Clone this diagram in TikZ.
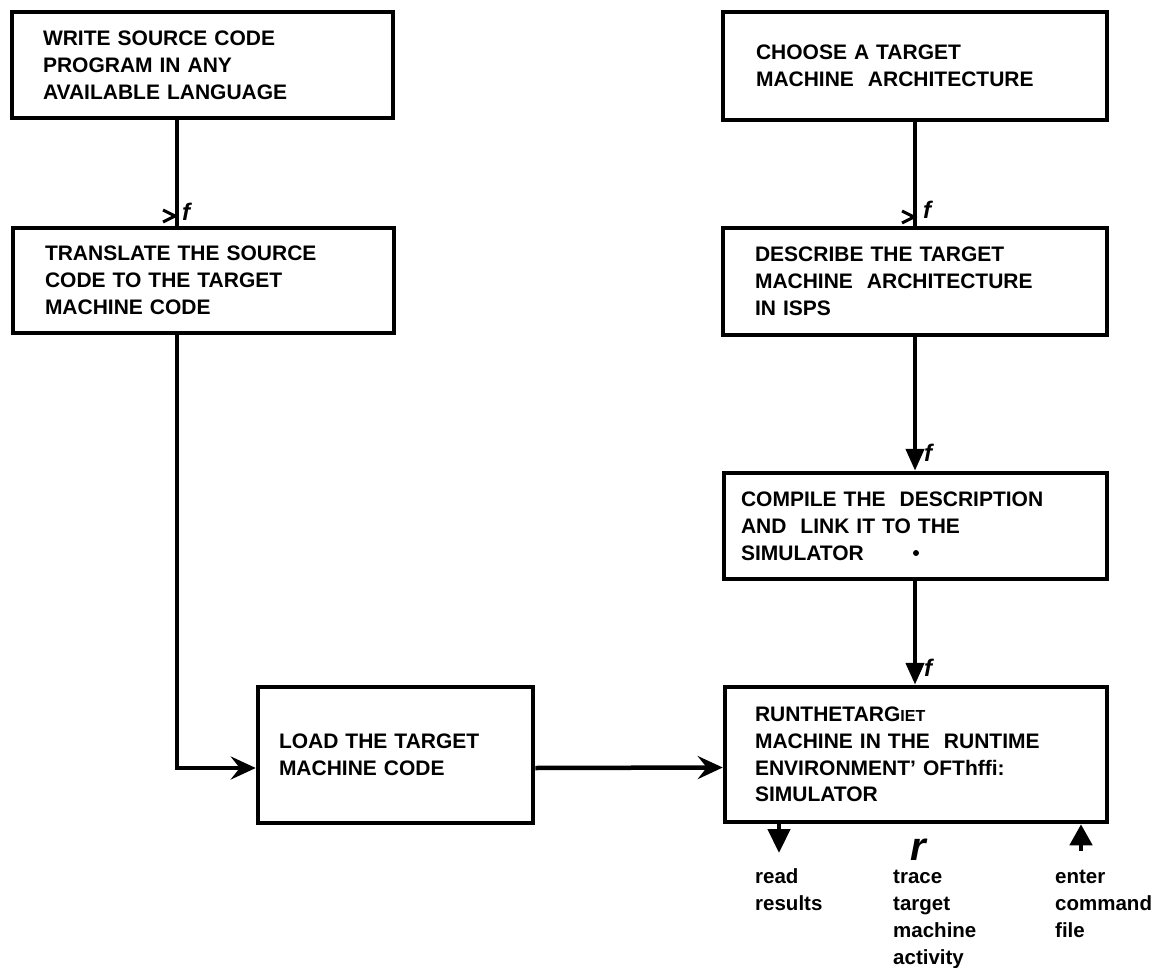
\documentclass[tikz,border=0pt]{standalone}
\usepackage{fontspec}
\setmainfont{Liberation Sans}
\usetikzlibrary{arrows.meta}
\newcommand\myboxfont{\fontsize{21}{26.8}\selectfont\bfseries}
\newcommand\mylblfont{\fontsize{20.5}{27.3}\selectfont\bfseries}
\begin{document}
\begin{tikzpicture}[x=1pt,y=-1pt,
  box/.style={draw, rectangle, line width=4.5pt, align=left, font=\myboxfont, inner ysep=0pt},
  conn/.style={line width=4.5pt},
  chev/.style={line width=3pt, miter limit=10},
  barb/.style={-{Stealth[length=25pt,width=23pt,inset=9pt]}},
  tri/.style={-{Triangle[length=22pt,width=18pt]}},
  fmark/.style={font=\fontsize{24}{24}\selectfont\bfseries\itshape, inner sep=0pt},
  lbl/.style={font=\mylblfont, align=left, inner sep=0pt, anchor=base west, text width=110pt}]
\useasboundingbox (0,0) rectangle (1159,968);
\fill[white] (0,0) rectangle (1159,968);

% boxes
\node[box, minimum width=381pt, minimum height=106pt, text width=319pt, inner xsep=31pt] (b1) at (202.5,65)
  {WRITE SOURCE CODE\\PROGRAM IN ANY\\AVAILABLE LANGUAGE};
\node[box, minimum width=381pt, minimum height=105pt, text width=317pt, inner xsep=32pt] (b2) at (203.5,280.5)
  {TRANSLATE THE SOURCE\\CODE TO THE TARGET\\MACHINE CODE};
\node[box, minimum width=384pt, minimum height=108pt, text width=318pt, inner xsep=33pt] (b3) at (915,66)
  {CHOOSE A TARGET\\MACHINE\ \ ARCHITECTURE};
\node[box, minimum width=384pt, minimum height=107pt, text width=320pt, inner xsep=32pt] (b4) at (915,281.5)
  {DESCRIBE THE TARGET\\MACHINE\ \ ARCHITECTURE\\IN ISPS};
\node[box, minimum width=383pt, minimum height=106pt, text width=349pt, inner xsep=17pt] (b5) at (915.5,526)
  {COMPILE THE\ \ DESCRIPTION\\AND\ \ LINK IT TO THE\\SIMULATOR};
\node[box, minimum width=382pt, minimum height=135pt, text width=322pt, inner xsep=30pt] (b6) at (916,754.5)
  {RUNTHETARG{\fontsize{16}{26.8}\selectfont IET}\\MACHINE IN THE\ \ RUNTIME\\ENVIRONMENT' OFThffi:\\SIMULATOR};
\node[box, minimum width=275pt, minimum height=136pt, text width=233pt, inner xsep=21pt] (b7) at (395.5,755)
  {LOAD THE TARGET\\MACHINE CODE};

% guide coordinates
\coordinate (cL) at (177,0);
\coordinate (cR) at (915,0);
\coordinate (dOut) at (779,853);
\coordinate (uIn) at (1081,851);

% connectors
\draw[conn] (b1.south -| cL) -- (b2.north -| cL);
\draw[chev] (163,210) -- (175,216) -- (163,222);
\draw[conn] (b3.south -| cR) -- (b4.north -| cR);
\draw[chev] (902,211) -- (914,217) -- (902,223);
\draw[conn, tri] (b4.south -| cR) -- (b5.north -| cR);
\draw[conn, tri] (b5.south -| cR) -- (b6.north -| cR);
\draw[conn, barb] (b2.south -| cL) |- ([yshift=-13pt]b7.west);
\draw[conn, barb] ([yshift=-13pt]b7.east) -- ([yshift=-13pt]b6.west);
\draw[conn, -{Triangle[length=24pt,width=22pt]}] (b6.south -| dOut) -- (dOut);
\draw[conn, -{Triangle[length=21pt,width=22pt]}] (uIn) -- (b6.south -| uIn);

% marks
\node[fmark] (f1) at (186,212) {f};
\node[fmark] (f2) at (927,210) {f};
\node[fmark] (f3) at (928,453) {f};
\node[fmark] (f4) at (928,668) {f};
\fill (916,553) circle (3pt);
\node[font=\fontsize{40}{40}\selectfont\bfseries\itshape, inner sep=0pt, anchor=base] (rr) at (918,860) {r};

% labels
\node[lbl] (l1) at (755,883) {read\\results};
\node[lbl] (l2) at (893,883) {trace\\target\\machine\\activity};
\node[lbl] (l3) at (1055,883) {enter\\command\\file};
\end{tikzpicture}
\end{document}
